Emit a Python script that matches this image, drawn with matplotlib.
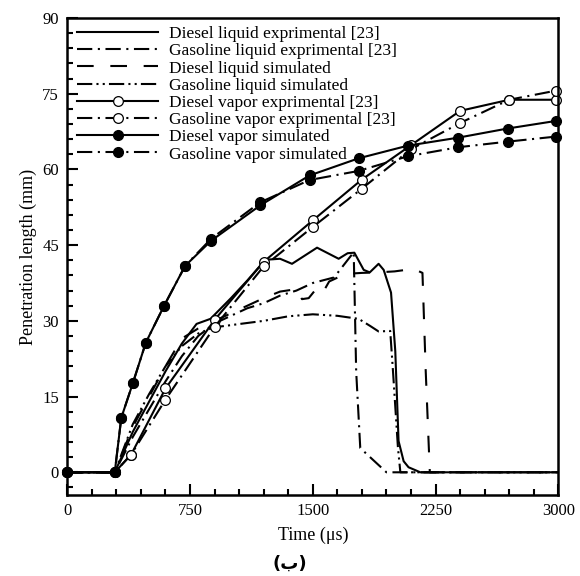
import matplotlib
matplotlib.use("Agg")
import matplotlib.pyplot as plt
from matplotlib.ticker import MultipleLocator

plt.rcParams.update({
    "font.family": ["Liberation Serif", "DejaVu Serif"],
    "font.size": 12,
    "lines.scale_dashes": False,
})

# ---------------------------------------------------------------------
# data (time in us, penetration in mm)
# ---------------------------------------------------------------------
t_dl_exp = [0, 290, 400, 500, 600, 700, 790, 875, 1000, 1100, 1210, 1300, 1373,
            1526, 1658, 1713, 1754, 1811, 1848, 1902, 1933, 1978, 2004, 2024,
            2055, 2085, 2157, 3000]
y_dl_exp = [0, 0, 8, 14, 20, 25.5, 29.4, 30.4, 34.5, 38, 42.1, 42.3, 41.3,
            44.5, 42.3, 43.4, 43.5, 40.1, 39.6, 41.3, 40.1, 35.6, 24, 6.2,
            2.2, 1.0, 0, 0]

t_gl_exp = [0, 290, 400, 500, 600, 700, 800, 900, 1000, 1100, 1200, 1300, 1400,
            1500, 1630, 1750, 1765, 1790, 1910, 1950, 3000]
y_gl_exp = [0, 0, 7, 12.5, 18, 23, 27, 29.5, 31, 32.5, 33.5, 35, 36,
            37.5, 38.6, 43.6, 20, 4.8, 1.2, 0, 0]

t_dl_sim = [0, 290, 400, 500, 600, 700, 800, 900, 1000, 1100, 1200, 1300, 1403,
            1434, 1475, 1515, 1556, 1600, 1700, 1800, 1900, 2000, 2116, 2170,
            2190, 2215, 3000]
y_dl_sim = [0, 0, 9, 15, 21, 26.5, 28.5, 30, 31.5, 33, 34.5, 35.8, 36.3,
            34.3, 34.5, 36.1, 35.3, 37.8, 39.3, 39.5, 39.6, 39.8, 40.3, 39.5,
            20, 0, 0]

t_gl_sim = [0, 290, 400, 500, 600, 700, 800, 894, 1057, 1200, 1350, 1500, 1650,
            1780, 1850, 1902, 1973, 1990, 2020, 2035, 3000]
y_gl_sim = [0, 0, 9.5, 15.5, 21, 25, 27.5, 28.7, 29.4, 30, 30.9, 31.3, 31,
            30.4, 29, 27.9, 28, 20, 5, 0, 0]

t_vap_exp = [0, 290, 390, 600, 900, 1200, 1500, 1800, 2100, 2400, 2700, 2985]
y_dv_exp = [0, 0, 3.5, 16.6, 30.2, 41.7, 49.9, 58.0, 64.8, 71.6, 73.8, 73.8]
y_gv_exp = [0, 0, 3.5, 14.4, 28.8, 40.8, 48.6, 56.2, 64.0, 69.2, 73.8, 75.6]

t_vap_sim = [0, 290, 330, 400, 480, 590, 720, 880, 1180, 1480, 1780, 2080,
             2390, 2690, 2985]
y_dv_sim = [0, 0, 10.8, 17.6, 25.7, 32.9, 40.9, 45.9, 52.9, 58.8, 62.2, 64.7,
            66.3, 68.1, 69.6]
y_gv_sim = [0, 0, 10.8, 17.6, 25.7, 32.9, 40.9, 46.3, 53.5, 57.9, 59.7, 62.6,
            64.4, 65.5, 66.5]

# dash patterns (points)
DASH = (0, (12, 12))
DASHDOT = (0, (11, 4, 1.5, 4))
DASHDOTDOT = (0, (11, 3, 1.5, 3, 1.5, 3))

fig = plt.figure(figsize=(5.8, 5.76), dpi=100)
ax = fig.add_axes([0.116, 0.1406, 0.8466, 0.8282])

lw = 1.5
ax.plot(t_dl_exp, y_dl_exp, color="k", lw=lw, ls="-",
        label="Diesel liquid exprimental [23]")
ax.plot(t_gl_exp, y_gl_exp, color="k", lw=lw, ls=DASHDOT,
        label="Gasoline liquid exprimental [23]")
ax.plot(t_dl_sim, y_dl_sim, color="k", lw=lw, ls=DASH,
        label="Diesel liquid simulated")
ax.plot(t_gl_sim, y_gl_sim, color="k", lw=lw, ls=DASHDOTDOT,
        label="Gasoline liquid simulated")
ax.plot(t_vap_exp, y_dv_exp, color="k", lw=lw, ls="-", marker="o", ms=7,
        mfc="white", mec="k", mew=0.9, clip_on=False,
        label="Diesel vapor exprimental [23]")
ax.plot(t_vap_exp, y_gv_exp, color="k", lw=lw, ls=DASHDOT, marker="o", ms=7,
        mfc="white", mec="k", mew=0.9, clip_on=False,
        label="Gasoline vapor exprimental [23]")
ax.plot(t_vap_sim, y_dv_sim, color="k", lw=lw, ls="-", marker="o", ms=7,
        mfc="k", mec="k", clip_on=False,
        label="Diesel vapor simulated")
ax.plot(t_vap_sim, y_gv_sim, color="k", lw=lw, ls=DASHDOT, marker="o", ms=7,
        mfc="k", mec="k", clip_on=False,
        label="Gasoline vapor simulated")

ax.set_xlim(0, 3000)
ax.set_ylim(-4.5, 90)
ax.xaxis.set_major_locator(MultipleLocator(750))
ax.xaxis.set_minor_locator(MultipleLocator(150))
ax.yaxis.set_major_locator(MultipleLocator(15))
ax.yaxis.set_minor_locator(MultipleLocator(3))
ax.tick_params(which="both", direction="in", top=False, right=False,
               labelsize=12, width=1.5)
ax.tick_params(which="major", length=8, pad=6)
ax.tick_params(which="minor", length=4)
for sp in ax.spines.values():
    sp.set_linewidth(1.8)

ax.set_xlabel("Time (\u03bcs)", fontsize=13, labelpad=5)
ax.set_ylabel("Penetration length (mm)", fontsize=13, labelpad=4)

ax.legend(loc="upper left", bbox_to_anchor=(-0.002, 1.005), frameon=False,
          fontsize=12.5, handlelength=4.7, labelspacing=0.06, handletextpad=0.6,
          borderaxespad=0.2)

fig.text(0.5, 0.006, "(ب)", ha="center", va="bottom", fontsize=13,
         fontweight="bold", family=["DejaVu Sans"])

fig.savefig("out.png", dpi=100)
